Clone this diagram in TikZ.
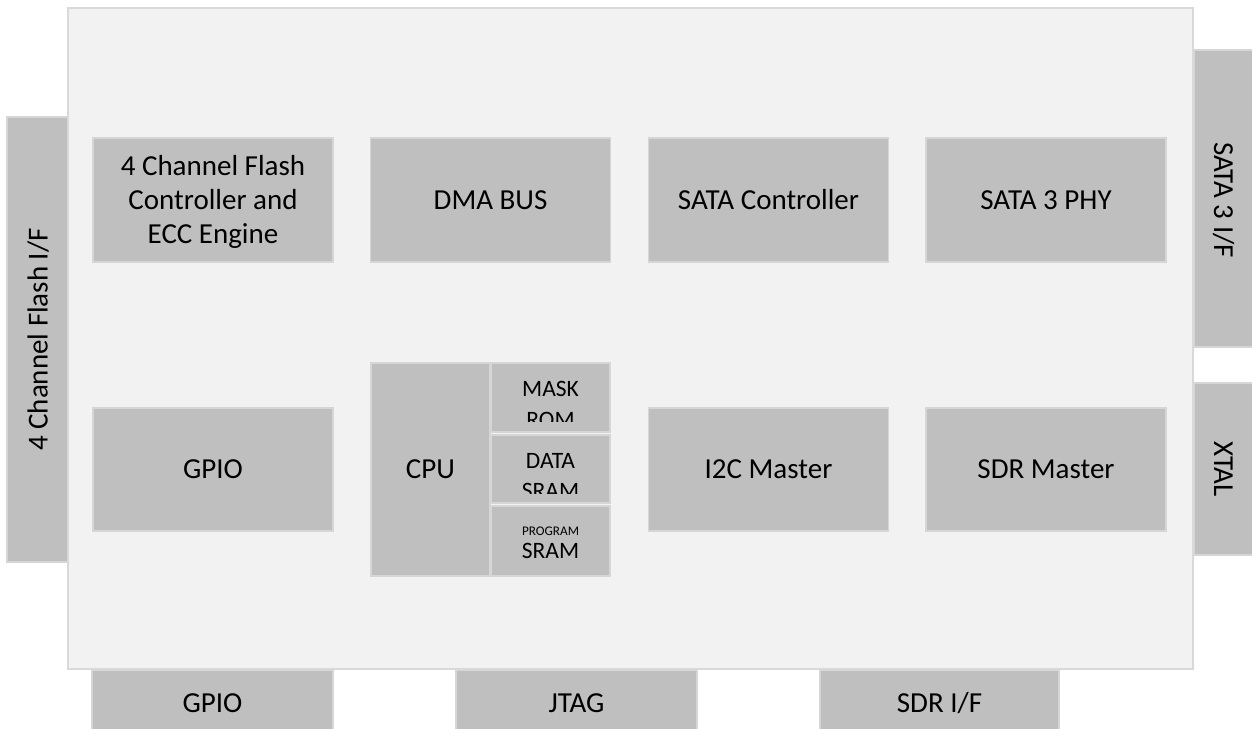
\documentclass[tikz,border=0pt]{standalone}
\usepackage{fontspec}
\setmainfont{Carlito}
\definecolor{chipfill}{HTML}{F2F2F2}
\definecolor{chipline}{HTML}{D9D9D9}
\definecolor{blkfill}{HTML}{BFBFBF}
\definecolor{blkline}{HTML}{D6D6D6}
\tikzset{
  chip/.style={draw=chipline, fill=chipfill, line width=2pt, inner sep=0pt},
  blk/.style={draw=blkline, fill=blkfill, line width=1.8pt, inner sep=0pt,
    font=\fontsize{29}{34}\selectfont, align=center, text height=18pt, text depth=0pt},
  lbl/.style={inner sep=0pt, font=\fontsize{29}{34}\selectfont, text height=18pt, text depth=0pt},
  smalllbl/.style={inner sep=0pt, font=\fontsize{23.5}{27}\selectfont, anchor=base},
  tinylbl/.style={inner sep=0pt, font=\fontsize{13.2}{15}\selectfont, anchor=base},
}
\begin{document}
\begin{tikzpicture}[x=1pt,y=-1pt]
\useasboundingbox (0,0) rectangle (1252,728);
% pins behind chip
\node[blk, minimum width=61pt, minimum height=445pt] (flashif) at (37.5,339.5) {};
\node[blk, minimum width=66pt, minimum height=297pt] (sataif) at (1227,198.5) {};
\node[blk, minimum width=66pt, minimum height=172pt] (xtal) at (1227,469) {};
\node[blk, minimum width=241pt, minimum height=66pt] (gpiopin) at (212.5,703) {};
\node[blk, minimum width=241pt, minimum height=66pt] (jtag) at (576.5,703) {};
\node[blk, minimum width=239pt, minimum height=66pt] (sdrif) at (939.5,703) {};
\node[lbl] (gpiopinL) at (212.5,703) {GPIO};
\node[lbl] (jtagL) at (576.5,703) {JTAG};
\node[lbl] (sdrifL) at (939.5,703) {SDR I/F};
\node[lbl, rotate=90] (flashifL) at (38.5,339.5) {4 Channel Flash I/F};
\node[lbl, rotate=-90] (sataifL) at (1223,200) {SATA 3 I/F};
\node[lbl, rotate=-90] (xtalL) at (1223,469) {XTAL};
% chip
\node[chip, minimum width=1125pt, minimum height=661pt] (chip) at (630.5,338.5) {};
% row 1
\node[blk, minimum width=240pt, minimum height=124pt, text height=86pt, text depth=0pt] (fc) at (213,200) {4 Channel Flash\\Controller and\\ECC Engine};
\node[blk, minimum width=240pt, minimum height=124pt] (dma) at (490.5,200) {DMA BUS};
\node[blk, minimum width=240pt, minimum height=124pt] (satac) at (768.5,200) {SATA Controller};
\node[blk, minimum width=240pt, minimum height=124pt] (phy) at (1046,200) {SATA 3 PHY};
% row 2
\node[blk, minimum width=240pt, minimum height=123pt] (gpio) at (213,469.5) {GPIO};
\node[blk, minimum width=119pt, minimum height=213pt] (cpu) at (430.5,469.5) {CPU};
\node[blk, minimum width=119pt, minimum height=69pt] (mask) at (550.5,397.5) {};
\node[blk, minimum width=119pt, minimum height=68pt] (data) at (550.5,469) {};
\node[blk, minimum width=119pt, minimum height=70pt] (prog) at (550.5,541) {};
\node[blk, minimum width=240pt, minimum height=123pt] (i2c) at (768.5,469.5) {I2C Master};
\node[blk, minimum width=240pt, minimum height=123pt] (sdrm) at (1046,469.5) {SDR Master};
% memory labels
\begin{scope}
\clip (491,363) rectangle (610,421.7);
\node[smalllbl] (maskA) at (550.5,396) {MASK};
\node[smalllbl] (maskB) at (550.5,427.5) {ROM};
\end{scope}
\begin{scope}
\clip (491,435) rectangle (610,493.3);
\node[smalllbl] (dataA) at (550.5,468.5) {DATA};
\node[smalllbl] (dataB) at (550.5,498.5) {SRAM};
\end{scope}
\node[tinylbl] (progA) at (550.5,535.5) {PROGRAM};
\node[smalllbl] (progB) at (550.5,558) {SRAM};
\end{tikzpicture}
\end{document}
